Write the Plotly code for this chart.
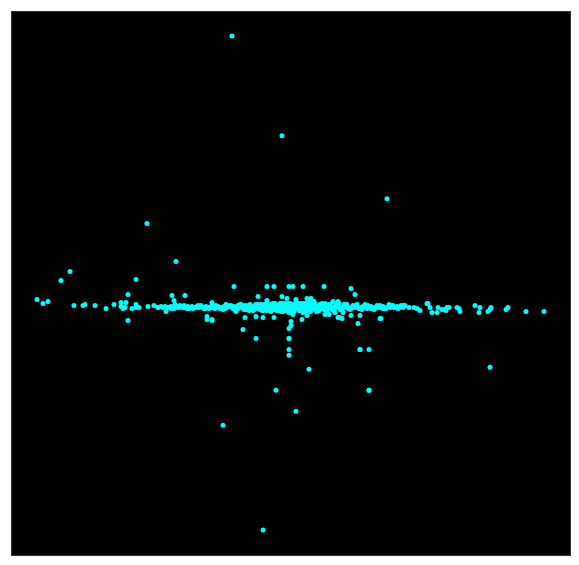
import plotly.graph_objects as go

# Sparse outlying points
outlier_x = [-59, -9, 96, -144, -115, 199, 18, -15, 78, 5, -68, -28,
             -254, -248, -243, -230, -221, -217, -208, -206, -196, -185, -177, -170, -165, -170, -168, -166, -163, -159, -155, -155, -155, -152,
             -143, -137, -133, -119, -117, -84, -79, -163,
             -57, -24, -17, -2, 2, 12, 33, 60, 64, -33, -9, -4, -24, 5, 16, 20, 23, 42, 47, -79,
             -84, -79, -46, -48, -35, -35, -28, -17, -2, 2, 11, 16, 34, 38, 47, 49, 51, 60, 69, 67, 89, 69, 78, 0, 0, -2, -2, -2, 78, -2, 69, -106]
outlier_y = [272, 172, 109, 84, 46, -60, -62, -83, -83, -104, -118, -223,
             8, 4, 6, 27, 36, 2, 2, 3, 2, -1, 3, 5, 5, 1, -1, 0, -13, -1, 3, 28, 0, 0,
             1, 2, 0, 12, 7, -12, -13, 13,
             21, 21, 21, 21, 21, 21, 21, 19, 13, 11, 11, 9, 7, 8, 9, 9, 6, 6, 6, 5,
             -9, -12, -10, -22, -31, -9, -10, -10, -31, -7, -12, -8, -7, -7, -10, -10, -11, -8, -8, -16, -11, -42, -42, -14, -18, -21, -31, -48, -83, -42, -42, 12]

# Right-hand tail
tail_x = [118, 123, 126, 129, 136, 137, 139, 141, 147, 146, 151, 154, 155, 156, 158, 166, 168, 169, 184, 189, 188, 197, 199, 200, 215, 217, 235, 253, 90]
tail_y = [0, 0, -1, -3, 4, 4, 0, -5, 0, -5, -2, -2, -3, 0, 0, 0, -1, -4, 2, 0, -5, -4, -2, 0, -2, 0, -4, -4, -11]

# Dense central band
band_x = [-133, -130, -128, -126, -124, -122, -120, -119, -117, -115, -113, -112, -110, -108, -106, -104, -103, -101, -99, -97, -95, -94,
          -92, -90, -88, -87, -85, -83, -81, -80, -78, -76, -74, -73, -71, -69, -67, -66, -64, -62, -60, -59, -57, -55, -53, -52, -50, -48,
          -47, -46, -45, -44, -43, -42, -41, -40, -39, -38, -37, -36, -35, -34, -33, -32, -31, -30, -29, -28, -27, -26, -25, -24, -23, -22,
          -21, -20, -19, -18, -17, -16, -15, -14, -13, -12, -11, -10, -9, -8, -7, -6, -5, -4, -3, -2, -1, 0, 1, 2, 3, 4, 5, 6, 7, 8, 9, 10,
          11, 12, 13, 14, 15, 16, 17, 18, 19, 20, 21, 22, 23, 24, 25, 26, 27, 28, 29, 30, 31, 32, 33, 34, 35, 36, 37, 38, 39, 40,
          42, 44, 46, 48, 50, 52, 54, 56, 58, 60, 62, 64, 66, 68, 70, 72, 74, 76, 78, 80, 82, 84, 86, 88, 90, 92, 94, 96, 98, 100, 102, 104, 106, 108, 110, 112, 114,
          -60, -44, -38, -30, -28, -26, -20, -18, -14, -12, -8, -6, -4, 2, 4, 8, 10, 14, 16, 20, 24, 28, 30, 36, -50, -42, -22, -10, 0, 6, 12, 18, 26, -2, -16, 22, 48, 52, 66, -55, -34, -24, 34, 44, 56]
band_y = [0, 1, 0, 1, 0, 0, 1, 0, -1, 0, 1, 0, 1, 0, 0, -1, 1, 0, 1, 0, 0, 1,
          0, 1, 0, -1, 1, 0, 0, 1, 0, -1, 0, 1, 0, 0, 1, -1, 0, 1, 2, 0, 1, 0, -1, 1, 0, 1,
          0, 2, -1, 0, 1, -1, 2, 0, 1, -1, 0, 2, -1, 1, 0, 2, -1, 0, 1, -2, 0, 2, 1, -1, 0, 2,
          -1, 1, 0, 2, -2, 0, 1, -1, 2, 0, -2, 1, 0, 2, -1, 1, 3, 0, -2, 1, 2, -1, 0, 3, -2, 1, 0, -1, 2, 0, 1, -2,
          0, 2, -1, 1, 0, -2, 2, 0, 1, -1, 0, 2, -1, 1, 0, -2, 1, 0, 2, -1, 0, 1, -1, 2, 0, 1, -1, 0, 2, 0, -1, 1,
          0, 1, -1, 0, 1, 0, 0, -1, 1, 0, 1, -1, 0, 1, 0, -1, 0, 1, 0, -1, 1, 0, 0, 1, -1, 0, 1, 0, 2, 0, 1, 0, 1, 0, 2, 1, 0,
          -3, 3, -3, 3, -4, 4, -3, 3, -4, 4, -3, -4, 4, -3, 4, -4, 3, -3, 4, -3, 3, -4, 3, -3, 3, -4, -5, 4, -5, 5, -4, -5, 4, 6, 4, -5, 3, -4, 3, -3, 4, -5, 3, -4, 3]

# Extra points that thicken the band
thick_x = [-125, -116, -107, -98, -90, -82, -75, -68, -63, -56, -51, -45, -41, -37, -33, -29, -25, -21, -17, -13, -9, -5, -1, 3, 7, 11, 15, 19, 23, 27, 31, 35, 39, 43, 47, 51, 55, 59, 65, 71, 77, 83, 89, 95, 101, 107, 112,
           -120, -111, -102, -93, -86, -78, -71, -65, -58, -53, -47, -43, -39, -35, -31, -27, -23, -19, -15, -11, -7, -3, 1, 5, 9, 13, 17, 21, 25, 29, 33, 37, 41, 45, 49, 53, 57, 62, 68, 74, 80, 86, 92, 98, 104, 110]
thick_y = [2, -1, 2, -1, 2, -2, 2, -2, 3, -2, 3, -2, 3, -3, 3, -3, 4, -3, 4, -3, 4, -4, 4, -3, 4, -4, 3, -3, 4, -3, 3, -3, 3, -2, 3, -2, 2, -2, 2, -2, 2, -1, 2, -1, 2, -1, 2,
           -1, 2, -1, 2, -1, 3, -1, 2, -2, 2, -2, 3, -2, 3, -2, 3, -2, 4, -2, 4, -3, 5, -3, 4, -3, 4, -3, 3, -2, 3, -2, 3, -2, 3, -1, 2, -1, 3, -1, 2, -1, 3, 0, 2, 0, 3]

fig = go.Figure()
fig.add_trace(go.Scatter(
    x=outlier_x + tail_x + band_x + thick_x,
    y=outlier_y + tail_y + band_y + thick_y,
    mode="markers",
    marker=dict(color="#00ffff", size=5, line=dict(width=0)),
    showlegend=False,
    hoverinfo="skip",
))
fig.update_layout(
    width=565, height=549,
    autosize=False,
    margin=dict(l=4, r=3, t=4, b=2),
    paper_bgcolor="white",
    plot_bgcolor="black",
    xaxis=dict(range=[-279, 279], visible=True, showticklabels=False, ticks="", showgrid=False, zeroline=False,
               showline=True, linecolor="#333333", linewidth=1, mirror=True),
    yaxis=dict(range=[-248, 296], visible=True, showticklabels=False, ticks="", showgrid=False, zeroline=False,
               showline=True, linecolor="#333333", linewidth=1, mirror=True),
)
fig.write_html("out.html", config=dict(displayModeBar=False))
